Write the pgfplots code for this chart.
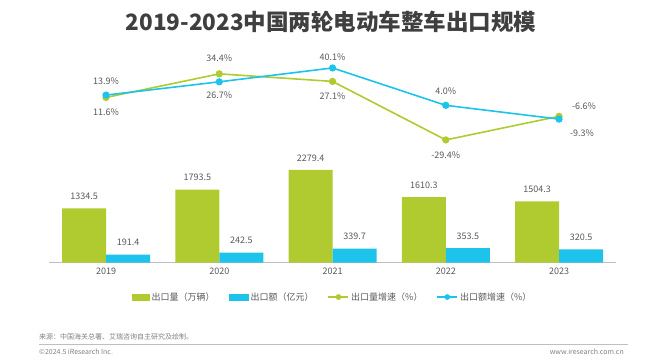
\documentclass[border=0pt]{standalone}
\usepackage{pgfplots}
\pgfplotsset{compat=1.18}
\usepackage{fontspec}
\setmainfont{Noto Sans CJK SC}
\definecolor{cgreen}{HTML}{AFCB2F}
\definecolor{cblue}{HTML}{1EC3EC}
\definecolor{ctext}{HTML}{595959}
\definecolor{ctitle}{HTML}{3F3F3F}
\definecolor{lgray}{HTML}{BFBFBF}
\definecolor{cfoot}{HTML}{808080}
\begin{document}
\begin{tikzpicture}[x=1pt,y=1pt]
\useasboundingbox (0,0) rectangle (660,360);
\node[font=\fontsize{22.5}{26}\selectfont\bfseries, text=ctitle] at (331,338) {2019-2023中国两轮电动车整车出口规模};

\begin{axis}[
  at={(49.4pt,97.5pt)}, anchor=south west, scale only axis,
  width=566.25pt, height=101.5pt,
  xmin=-0.5, xmax=4.5, ymin=0, ymax=2500,
  axis x line=bottom, hide y axis,
  x axis line style={draw=lgray, line width=0.8pt, -},
  xtick={0,1,2,3,4}, xticklabels={2019,2020,2021,2022,2023},
  major tick length=0pt,
  xticklabel style={font=\fontsize{9}{10}\selectfont, text=ctext, yshift=-2pt},
  ybar=0pt, bar width=44pt,
  point meta=explicit symbolic,
  nodes near coords,
  nodes near coords style={font=\fontsize{9}{10}\selectfont, text=ctext, anchor=center, yshift=12pt},
  clip=false,
  legend columns=4,
  legend style={at={(0.5,-0.34)}, anchor=center, draw=none, fill=none,
    font=\fontsize{9}{10}\selectfont, text=ctext,
    /tikz/every even column/.append style={column sep=12pt}},
]
\addplot[fill=cgreen, draw=none,
  legend image code/.code={\fill[cgreen] (0pt,-3.5pt) rectangle (18pt,3.5pt);}]
  coordinates {(0,1334.5)[1334.5] (1,1793.5)[1793.5] (2,2279.4)[2279.4] (3,1610.3)[1610.3] (4,1504.3)[1504.3]};
\addplot[fill=cblue, draw=none,
  legend image code/.code={\fill[cblue] (0pt,-3.5pt) rectangle (20pt,3.5pt);}]
  coordinates {(0,191.4)[191.4] (1,242.5)[242.5] (2,339.7)[339.7] (3,353.5)[353.5] (4,320.5)[320.5]};
\addlegendimage{legend image code/.code={\draw[cgreen, line width=1.5pt] (0pt,0pt) -- (20pt,0pt); \fill[cgreen] (10pt,0pt) circle (2.6pt);}}
\addlegendimage{legend image code/.code={\draw[cblue, line width=1.5pt] (0pt,0pt) -- (20pt,0pt); \fill[cblue] (10pt,0pt) circle (2.6pt);}}
\legend{出口量（万辆）,出口额（亿元）,出口量增速（\%）,出口额增速（\%）}
\end{axis}

\begin{axis}[
  at={(49.4pt,209.1pt)}, anchor=south west, scale only axis,
  width=566.25pt, height=93.2pt,
  xmin=-0.5, xmax=4.5, ymin=-40, ymax=50,
  hide axis, clip=false,
]
\addplot[cgreen, line width=1.6pt, mark=*, mark size=2.8pt] coordinates {(0,11.6) (1,34.4) (2,27.1) (3,-29.4) (4,-6.6)};
\addplot[cblue, line width=1.6pt, mark=*, mark size=2.8pt] coordinates {(0,13.9) (1,26.7) (2,40.1) (3,4.0) (4,-9.3)};
% green labels below
\addplot[draw=none, mark=none, point meta=explicit symbolic, nodes near coords={\pgfplotspointmeta\%},
  nodes near coords style={font=\fontsize{9}{10}\selectfont, text=ctext, anchor=center, yshift=-15pt}]
  coordinates {(0,11.6)[11.6] (2,27.1)[27.1] (3,-29.4)[-29.4]};
% green labels above
\addplot[draw=none, mark=none, point meta=explicit symbolic, nodes near coords={\pgfplotspointmeta\%},
  nodes near coords style={font=\fontsize{9}{10}\selectfont, text=ctext, anchor=center, yshift=16pt}]
  coordinates {(1,34.4)[34.4]};
\addplot[draw=none, mark=none, point meta=explicit symbolic, nodes near coords={\pgfplotspointmeta\%},
  nodes near coords style={font=\fontsize{9}{10}\selectfont, text=ctext, anchor=center, xshift=25pt, yshift=10pt}]
  coordinates {(4,-6.6)[-6.6]};
% blue labels above
\addplot[draw=none, mark=none, point meta=explicit symbolic, nodes near coords={\pgfplotspointmeta\%},
  nodes near coords style={font=\fontsize{9}{10}\selectfont, text=ctext, anchor=center, yshift=14pt}]
  coordinates {(0,13.9)[13.9] (3,4.0)[4.0]};
\addplot[draw=none, mark=none, point meta=explicit symbolic, nodes near coords={\pgfplotspointmeta\%},
  nodes near coords style={font=\fontsize{9}{10}\selectfont, text=ctext, anchor=center, yshift=11pt}]
  coordinates {(2,40.1)[40.1]};
% blue labels below
\addplot[draw=none, mark=none, point meta=explicit symbolic, nodes near coords={\pgfplotspointmeta\%},
  nodes near coords style={font=\fontsize{9}{10}\selectfont, text=ctext, anchor=center, yshift=-13pt}]
  coordinates {(1,26.7)[26.7]};
\addplot[draw=none, mark=none, point meta=explicit symbolic, nodes near coords={\pgfplotspointmeta\%},
  nodes near coords style={font=\fontsize{9}{10}\selectfont, text=ctext, anchor=center, xshift=23pt, yshift=-14pt}]
  coordinates {(4,-9.3)[-9.3]};
\end{axis}

\node[anchor=west, font=\fontsize{7}{8}\selectfont, text=cfoot, inner sep=0pt] at (39,23) {来源：中国海关总署、艾瑞咨询自主研究及绘制。};
\draw[lgray, line width=0.6pt] (39,16) -- (628,16);
\node[anchor=west, font=\fontsize{7}{8}\selectfont, text=cfoot, inner sep=0pt] at (39,8) {©2024.5 iResearch Inc.};
\node[anchor=east, font=\fontsize{7}{8}\selectfont, text=cfoot, inner sep=0pt] at (624,8) {www.iresearch.com.cn};
\end{tikzpicture}
\end{document}
